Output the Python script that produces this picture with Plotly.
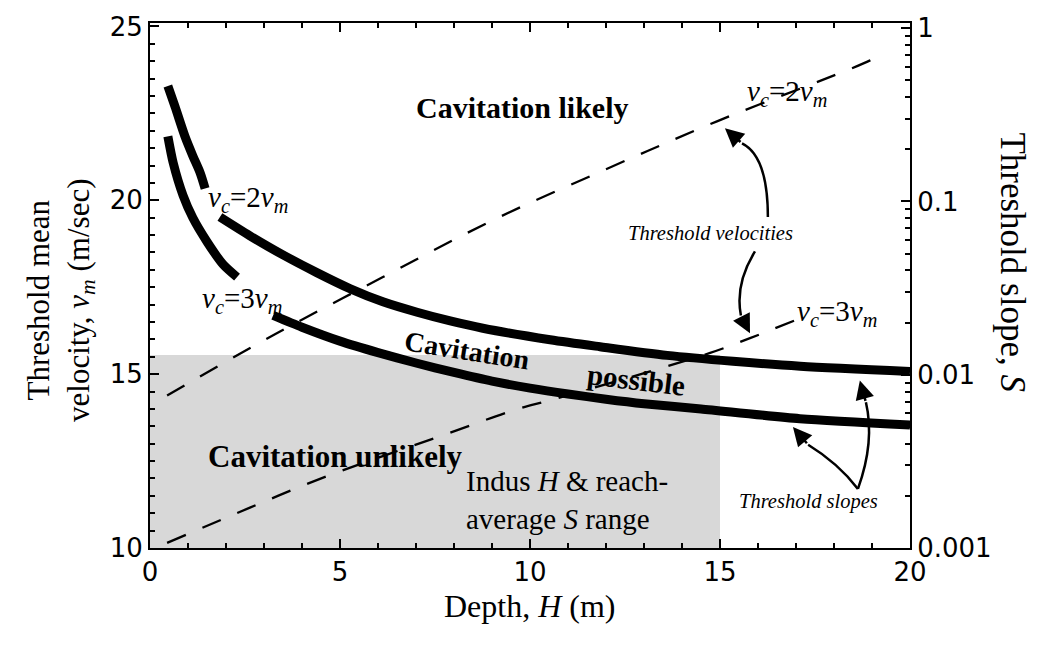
import plotly.graph_objects as go

# ---------------- data ----------------
# Threshold mean velocity curves (left axis, m/sec); None = gap left for the label
v2_depth = [0.47, 0.66, 0.92, 1.13, 1.32, 1.45, None, 1.84, 2.63, 3.50, 4.39, 5.26,
            6.13, 7.03, 7.90, 8.76, 10.53, 11.84, 13.61, 15.34, 17.11, 20.0]
v2_vel = [23.29, 22.69, 21.84, 21.27, 20.79, 20.34, None, 19.52, 18.98, 18.43, 17.92,
          17.46, 17.08, 16.78, 16.53, 16.32, 15.99, 15.79, 15.54, 15.37, 15.23, 15.08]

v3_depth = [0.47, 0.61, 0.87, 1.13, 1.50, 1.92, 2.29, None, 3.24, 4.0, 5.0, 6.0,
            7.0, 8.0, 9.0, 10.0, 11.0, 12.0, 13.0, 14.5, 17.1, 20.0]
v3_vel = [21.84, 21.08, 20.14, 19.49, 18.81, 18.16, 17.79, None, 16.69, 16.35, 15.95,
          15.62, 15.32, 15.05, 14.80, 14.60, 14.43, 14.28, 14.15, 14.00, 13.72, 13.54]

# Threshold slope curves (right axis, log S)
s2_depth = [0.45, 3.24, 6.13, 9.03, 12.03, 14.92, 18.95, 19.21]
s2_slope = [0.0076, 0.0169, 0.0366, 0.0781, 0.1545, 0.290, 0.652, 0.705]

s3_depth = [0.45, 2.63, 4.66, 7.82, 9.66, 10.61, 14.74, 15.79, 17.03]
s3_slope = [0.00107, 0.00171, 0.0026, 0.00456, 0.00633, 0.00721, 0.01336, 0.01626, 0.02085]

# Indus H & reach-average S range (shaded box)
indus_depth = [0.0, 15.0]
indus_vel = [10.0, 15.55]

x_ticks = [0, 5, 10, 15, 20]
v_ticks = [10, 15, 20, 25]
s_ticks = [0.001, 0.01, 0.1, 1]
s_ticktext = ["0.001", "0.01", "0.1", "1"]
s_minor = [m * 10.0 ** e for e in (-3, -2, -1) for m in range(2, 10)]

SERIF = "Liberation Serif"
SANS = "DejaVu Sans"

fig = go.Figure()

# shaded range
fig.add_trace(go.Scatter(
    x=[indus_depth[0], indus_depth[1], indus_depth[1], indus_depth[0], indus_depth[0]],
    y=[indus_vel[0], indus_vel[0], indus_vel[1], indus_vel[1], indus_vel[0]],
    mode="lines", fill="toself", fillcolor="rgb(216,216,216)",
    line=dict(width=0), hoverinfo="skip", showlegend=False))

# threshold velocity curves
fig.add_trace(go.Scatter(x=v2_depth, y=v2_vel, mode="lines",
                         line=dict(color="black", width=9, shape="spline", smoothing=0.8),
                         showlegend=False))
fig.add_trace(go.Scatter(x=v3_depth, y=v3_vel, mode="lines",
                         line=dict(color="black", width=9, shape="spline", smoothing=0.7),
                         showlegend=False))

# threshold slope curves (dashed, right log axis)
fig.add_trace(go.Scatter(x=s2_depth, y=s2_slope, yaxis="y2", mode="lines",
                         line=dict(color="black", width=2.3, dash="20px,18px", shape="spline"),
                         showlegend=False))
fig.add_trace(go.Scatter(x=s3_depth, y=s3_slope, yaxis="y2", mode="lines",
                         line=dict(color="black", width=2.3, dash="20px,18px", shape="spline"),
                         showlegend=False))

ann = []

def txt(x, y, text, size, bold=False, italic=False, angle=0, xanchor="center", align="center"):
    t = text
    if bold:
        t = "<b>" + t + "</b>"
    if italic:
        t = "<i>" + t + "</i>"
    ann.append(dict(x=x, y=y, xref="x", yref="y", text=t, showarrow=False,
                    textangle=angle, xanchor=xanchor, yanchor="middle", align=align,
                    font=dict(family=SERIF, size=size, color="black")))

vc2 = "<i>v</i><sub><i>c</i></sub>=2<i>v</i><sub><i>m</i></sub>"
vc3 = "<i>v</i><sub><i>c</i></sub>=3<i>v</i><sub><i>m</i></sub>"

txt(9.8, 22.66, "Cavitation likely", 30, bold=True)
txt(2.58, 20.05, vc2, 29)
txt(2.42, 17.12, vc3, 29)
txt(16.76, 23.10, vc2, 29)
txt(18.08, 16.75, vc3, 29)
txt(14.76, 19.07, "Threshold velocities", 20.5, italic=True)
txt(17.34, 11.33, "Threshold slopes", 20.5, italic=True)
txt(8.34, 15.69, "Cavitation", 28, bold=True, angle=9)
txt(12.8, 14.82, "possible", 29, bold=True, angle=7)
txt(4.89, 12.63, "Cavitation unlikely", 31, bold=True)
txt(8.25, 11.39, "Indus <i>H</i> &amp; reach-<br>average <i>S</i> range", 29,
    xanchor="left", align="left")

# curved arrows: path shapes + arrowheads
shapes = []
def curve(p0, c, p1):
    shapes.append(dict(type="path", xref="x", yref="y",
                       path=f"M {p0[0]},{p0[1]} Q {c[0]},{c[1]} {p1[0]},{p1[1]}",
                       line=dict(color="black", width=2.5)))

def head(base, tip):
    ann.append(dict(x=tip[0], y=tip[1], ax=base[0], ay=base[1], xref="x", yref="y",
                    axref="x", ayref="y", text="", showarrow=True, arrowhead=2,
                    arrowsize=1.5, arrowwidth=2.5, arrowcolor="black", standoff=0))

curve((16.26, 19.52), (16.26, 21.27), (15.58, 21.64))
head((15.58, 21.64), (15.13, 22.07))
curve((15.92, 18.53), (15.39, 17.59), (15.55, 16.69))
head((15.55, 16.69), (15.79, 16.18))
curve((18.63, 11.70), (19.08, 13.06), (18.84, 14.19))
head((18.84, 14.19), (18.68, 14.82))
curve((18.63, 11.70), (18.11, 12.44), (17.32, 12.97))
head((17.32, 12.97), (16.92, 13.48))

# axis titles
ann.append(dict(x=0.5, y=-0.11, xref="paper", yref="paper", showarrow=False,
                text="Depth, <i>H</i> (m)", xanchor="center", yanchor="middle",
                font=dict(family=SERIF, size=32, color="black")))
ann.append(dict(x=-0.118, y=0.473, xref="paper", yref="paper", showarrow=False,
                text="Threshold mean<br>velocity, <i>v</i><sub><i>m</i></sub> (m/sec)",
                textangle=-90, xanchor="center", yanchor="middle",
                font=dict(family=SERIF, size=31, color="black")))
ann.append(dict(x=1.1355, y=0.544, xref="paper", yref="paper", showarrow=False,
                text="Threshold slope, <i>S</i>", textangle=90,
                xanchor="center", yanchor="middle",
                font=dict(family=SERIF, size=35, color="black")))

axis_common = dict(showgrid=False, zeroline=False, showline=True, linecolor="black",
                   linewidth=2, ticks="inside", ticklen=9, tickwidth=2, tickcolor="black",
                   tickfont=dict(family=SANS, size=26, color="black"))

fig.update_layout(
    width=1037, height=652,
    margin=dict(l=150, r=127, t=15, b=104),
    paper_bgcolor="white", plot_bgcolor="white",
    font=dict(family=SERIF, color="black"),
    xaxis=dict(range=[0, 20], tickvals=x_ticks, mirror="ticks",
               minor=dict(dtick=1, ticks="inside", ticklen=5, tickwidth=1.5,
                          tickcolor="black", showgrid=False),
               **axis_common),
    yaxis=dict(range=[10, 25.1], tickvals=v_ticks,
               minor=dict(dtick=0.5, ticks="inside", ticklen=5, tickwidth=1.5,
                          tickcolor="black", showgrid=False),
               **axis_common),
    yaxis2=dict(type="log", range=[-3, 0.03], overlaying="y", side="right",
                tickvals=s_ticks, ticktext=s_ticktext,
                minor=dict(tickmode="array", tickvals=s_minor, ticks="inside", ticklen=5,
                           tickwidth=1.5, tickcolor="black", showgrid=False),
                **axis_common),
    annotations=ann,
    shapes=shapes,
    showlegend=False,
)

fig.write_html("out.html")
